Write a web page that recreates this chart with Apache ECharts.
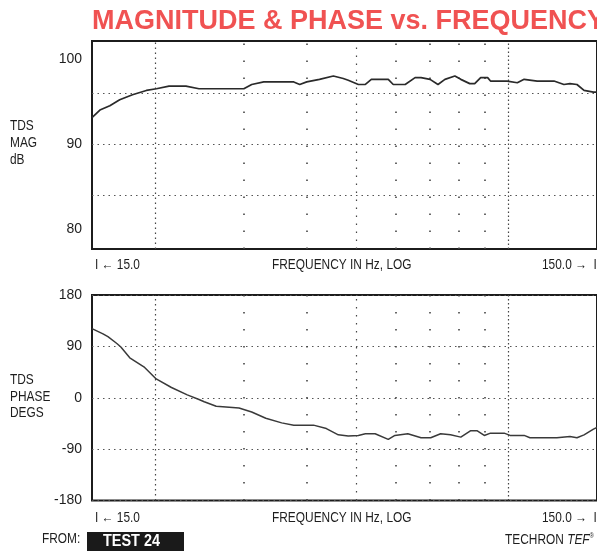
<!DOCTYPE html>
<html><head><meta charset="utf-8">
<script src="https://cdn.jsdelivr.net/npm/echarts@6/dist/echarts.min.js"></script>
<style>html,body{margin:0;padding:0;background:#fff}#c{width:597px;height:551px}</style>
</head><body><div id="c"></div>
<script>
// ---- data ----
const magFreq = [15, 15.55, 16.27, 17.02, 18.04, 19.22, 20.12, 21.31, 23.02, 24.43, 29.97, 31.07, 32.83, 37.64, 38.68, 39.93, 42.32, 45.08, 47.17, 48.25, 50.53, 52.17, 53.61, 57.91, 59.24, 62.55, 65.44, 67.25, 70.06, 72.65, 74.98, 78.46, 80.61, 83.96, 85.89, 88.25, 91.1, 92.3, 99.6, 104.3, 107.6, 114.2, 123.3, 129.0, 132.6, 136.9, 141.4, 147.6, 150];
const magDb   = [93.1, 94.0, 94.5, 95.2, 95.8, 96.3, 96.5, 96.8, 96.8, 96.5, 96.5, 97.0, 97.3, 97.3, 97.0, 97.3, 97.6, 98.0, 97.7, 97.5, 97.0, 97.0, 97.6, 97.6, 97.0, 97.0, 97.8, 97.8, 97.6, 97.0, 97.6, 98.0, 97.6, 97.1, 97.1, 97.8, 97.8, 97.4, 97.4, 97.2, 97.6, 97.4, 97.4, 97.0, 97.1, 97.0, 96.3, 96.1, 96.1];
const phaseFreq = [15, 15.77, 16.13, 16.8, 17.11, 17.82, 19.07, 20.1, 21.55, 23.16, 24.43, 25.02, 26.43, 29.32, 31.07, 33.13, 35.62, 37.64, 41.18, 43.67, 46.11, 48.25, 50.53, 52.17, 54.54, 57.91, 59.69, 63.31, 67.25, 70.27, 73.53, 76.93, 80.61, 84.21, 86.91, 89.72, 92.3, 98.24, 100.9, 107.6, 110.5, 117.7, 124.9, 132.6, 136.9, 141.4, 147.6, 150];
const phaseDeg  = [121, 112, 107, 95, 89, 70, 53, 33, 18, 5, -3, -7, -15, -18, -25, -36, -44, -48, -48, -54, -65, -67, -66, -63, -63, -73, -66, -63, -70, -70, -63, -65, -69, -58, -58, -66, -62, -62, -66, -66, -70, -70, -70, -68, -70, -65, -55, -52];
const freqMin = 15, freqMax = 150;
const magMin = 77.7, magMax = 102.1;
const magTickLabels = [80, 90, 100];
const magGridValues = [84, 90, 96];
const phaseMin = -180, phaseMax = 180, phaseStep = 90;
const vLineFreqs = [20, 30, 40, 50, 60, 70, 80, 90, 100];
const titleText = 'MAGNITUDE & PHASE vs. FREQUENCY';
const magAxisName = 'TDS\nMAG\ndB';
const phaseAxisName = 'TDS\nPHASE\nDEGS';
const xLeftText = 'I ← 15.0';
const xMidText = 'FREQUENCY IN Hz, LOG';
const xRightText = '150.0 →  I';

// ---- styles ----
const FONT = "'Liberation Sans',Arial,sans-serif";
const TXT = '#1e1e1e';
const SX = 0.85;
function vStyle(f) {
  if (f === 20) return {color: '#444', width: 1.2, type: [1.5, 3.5]};
  if (f === 100) return {color: '#444', width: 1.2, type: [1.5, 2.5]};
  if (f === 50) return {color: '#444', width: 1.2, type: [1.5, 6.5]};
  return {color: '#444', width: 1.6, type: [1.6, 15.4]};
}
function vLines() {
  return {
    silent: true, symbol: ['none', 'none'], label: {show: false}, animation: false,
    emphasis: {disabled: true},
    data: vLineFreqs.map(f => ({xAxis: f, lineStyle: vStyle(f)}))
  };
}
function txt(text, x, y, extra, valign) {
  return {type: 'text', x: x, y: y, scaleX: SX, silent: true,
    style: Object.assign({text: text, fill: TXT, fontSize: 14, fontFamily: FONT,
      textAlign: 'left', textVerticalAlign: valign || 'middle'}, extra || {})};
}
const gridSplit = {show: true, lineStyle: {color: '#555', width: 1.2, type: [1.5, 4]}};
const ylabel = {fontSize: 14, color: TXT, fontFamily: FONT, margin: 10};

const chart = echarts.init(document.getElementById('c'), null, {renderer: 'canvas'});
const option = {
  animation: false,
  backgroundColor: '#fff',
  grid: [
    {left: 92, top: 41, width: 508.5, height: 208, show: true, borderColor: '#1c1c1c', borderWidth: 2},
    {left: 92, top: 295, width: 508.5, height: 205.5, show: true, borderColor: '#1c1c1c', borderWidth: 2}
  ],
  xAxis: [0, 1].map(i => ({
    type: 'log', logBase: 10, gridIndex: i, min: freqMin, max: freqMax,
    axisLine: {show: false}, axisTick: {show: false}, axisLabel: {show: false}, splitLine: {show: false}
  })),
  yAxis: [
    {type: 'value', gridIndex: 0, min: magMin, max: magMax,
     axisLine: {show: false}, axisTick: {show: false, customValues: magGridValues},
     axisLabel: Object.assign({customValues: magTickLabels}, ylabel),
     splitLine: gridSplit},
    {type: 'value', gridIndex: 1, min: phaseMin, max: phaseMax, interval: phaseStep,
     axisLine: {show: false}, axisTick: {show: false},
     axisLabel: Object.assign({showMinLabel: true, showMaxLabel: true}, ylabel),
     splitLine: gridSplit}
  ],
  series: [
    {type: 'line', xAxisIndex: 0, yAxisIndex: 0, showSymbol: false, symbol: 'none',
     data: magFreq.map((f, i) => [f, magDb[i]]),
     lineStyle: {color: '#2a2a2a', width: 1.7}, markLine: vLines(), z: 5},
    {type: 'line', xAxisIndex: 1, yAxisIndex: 1, showSymbol: false, symbol: 'none',
     data: phaseFreq.map((f, i) => [f, phaseDeg[i]]),
     lineStyle: {color: '#3a3a3a', width: 1.5}, markLine: vLines(), z: 5}
  ],
  graphic: [
    {type: 'text', x: 92, y: 22, silent: true, style: {text: titleText, fill: '#f05252',
      font: "bold 27px 'Liberation Sans', Arial, sans-serif", textVerticalAlign: 'middle'}},
    txt(magAxisName, 10, 118, {lineHeight: 17}, 'top'),
    txt(phaseAxisName, 10, 372, {lineHeight: 16.5}, 'top'),
    txt(xLeftText, 95, 265),
    txt(xMidText, 272, 265),
    txt(xRightText, 542, 265),
    txt(xLeftText, 95, 518),
    txt(xMidText, 272, 518),
    txt(xRightText, 542, 518),
    txt('FROM:', 42, 539),
    {type: 'rect', silent: true, shape: {x: 87, y: 532, width: 97, height: 25}, style: {fill: '#1a1a1a'}},
    txt('TEST 24', 103, 541, {fill: '#fff', fontSize: 17, fontWeight: 'bold'}),
    txt('{a|TECHRON }{b|TEF}{c|®}', 505, 540, {
      rich: {
        a: {fontSize: 14, fontFamily: FONT, fill: TXT},
        b: {fontSize: 14, fontFamily: FONT, fontStyle: 'italic', fill: TXT},
        c: {fontSize: 7, fontFamily: FONT, fill: TXT, verticalAlign: 'top', padding: [0, 0, 8, 0]}
      }})
  ]
};
chart.setOption(option);
</script>
</body></html>
